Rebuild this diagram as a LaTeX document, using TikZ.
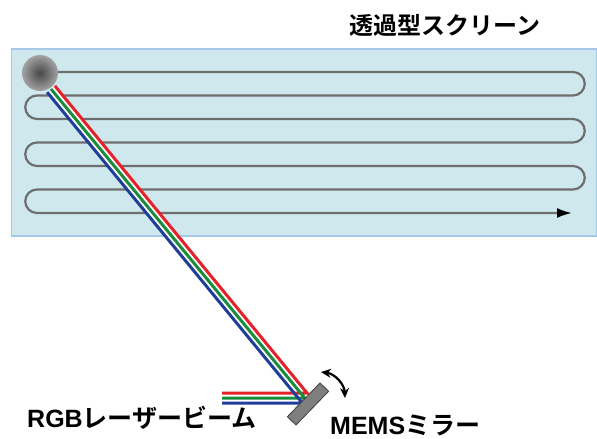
\documentclass[tikz,border=0pt]{standalone}
\usepackage{fontspec}
\usetikzlibrary{arrows.meta}
\newfontfamily\jpfont{Noto Sans CJK JP}[BoldFont={Noto Sans CJK JP Bold}]
\newfontfamily\latinfont{Liberation Sans}

\definecolor{screenfill}{HTML}{CFE8EE}
\definecolor{screenedge}{HTML}{A3C8E8}
\definecolor{scangray}{HTML}{6E6E6E}
\definecolor{laserred}{HTML}{E3222A}
\definecolor{lasergreen}{HTML}{1A8C3E}
\definecolor{laserblue}{HTML}{1F3E9A}
\definecolor{mirrorgray}{HTML}{7E7E7E}

% soft grey light spot on the screen
\pgfdeclareradialshading{spotshade}{\pgfpoint{0bp}{0bp}}{%
  color(0bp)=(black!72);
  color(10bp)=(black!58);
  color(28bp)=(black!32);
  color(50bp)=(black!12)}

\tikzset{
  screenbox/.style={draw=screenedge, fill=screenfill, line width=1.6pt, inner sep=0pt},
  scanpath/.style={draw=scangray, line width=2.2pt,
    -{Latex[length=15pt,width=10pt,color=black]}},
  beamband/.style={draw=white, line width=12pt, line join=miter},
  beamline/.style={line width=3pt, line join=miter},
  mirrorbar/.style={draw=black!75, fill=mirrorgray, line width=0.8pt, inner sep=0pt},
  swing/.style={draw=black, line width=2.2pt,
    {Stealth[length=10pt,width=9pt]}-{Stealth[length=10pt,width=9pt]}},
  label/.style={font=\jpfont\bfseries, text=black, inner sep=0pt}
}

\begin{document}
\begin{tikzpicture}[x=1pt,y=-1pt]
\useasboundingbox (0,0) rectangle (597,439);
\fill[white] (0,0) rectangle (597,439);

% transmissive screen
\node[screenbox, anchor=north west, minimum width=585pt, minimum height=187pt]
  (screen) at (10.5,48) {};

% raster scan path across the screen
\draw[scanpath] (40,72) -- (573,72)
  arc[start angle=-90, end angle=90, radius=11.75] -- (37,95.5)
  arc[start angle=-90, end angle=-270, radius=11.75] -- (573,119)
  arc[start angle=-90, end angle=90, radius=11.75] -- (37,142.5)
  arc[start angle=-90, end angle=-270, radius=11.75] -- (573,166)
  arc[start angle=-90, end angle=90, radius=11.75] -- (37,189.5)
  arc[start angle=-90, end angle=-270, radius=11.75] -- (572,213);

% light spot
\node[circle, minimum size=36pt, inner sep=0pt, shade, shading=spotshade]
  (spot) at (40,73) {};

% beam end points: start at the spot, corner at the mirror, free end on the left
\coordinate (rs) at (54.86,85.83);  \coordinate (rc) at (307.0,393); \coordinate (re) at (222,393);
\coordinate (gs) at (51,89);        \coordinate (gc) at (304.7,398); \coordinate (ge) at (222,398);
\coordinate (bs) at (47.14,92.17);  \coordinate (bc) at (302.3,403); \coordinate (be) at (222,403);

% RGB laser beams
\draw[beamband] (gs) -- (gc) -- (ge);
\draw[beamline, draw=laserred]   (rs) -- (rc) -- (re);
\draw[beamline, draw=lasergreen] (gs) -- (gc) -- (ge);
\draw[beamline, draw=laserblue]  (bs) -- (bc) -- (be);

% MEMS mirror
\node[mirrorbar, rotate=46, minimum width=47pt, minimum height=12pt]
  (mirror) at (308,404) {};

% mirror swing arrow
\coordinate (swingtop) at (321,372);
\coordinate (swingbot) at (345,398);
\draw[swing] (swingtop) to[bend left=40] (swingbot);

% labels
\node[label, font=\jpfont\bfseries\fontsize{24}{28}\selectfont] (title) at (445,25)
  {透過型スクリーン};
\node[label, anchor=base west, font=\jpfont\bfseries\fontsize{25}{30}\selectfont]
  (rgblabel) at (27,427) {{\latinfont\bfseries RGB}レーザービーム};
\node[label, anchor=base west, font=\jpfont\bfseries\fontsize{25}{30}\selectfont]
  (memslabel) at (330,434) {{\latinfont\bfseries MEMS}ミラー};
\end{tikzpicture}
\end{document}
